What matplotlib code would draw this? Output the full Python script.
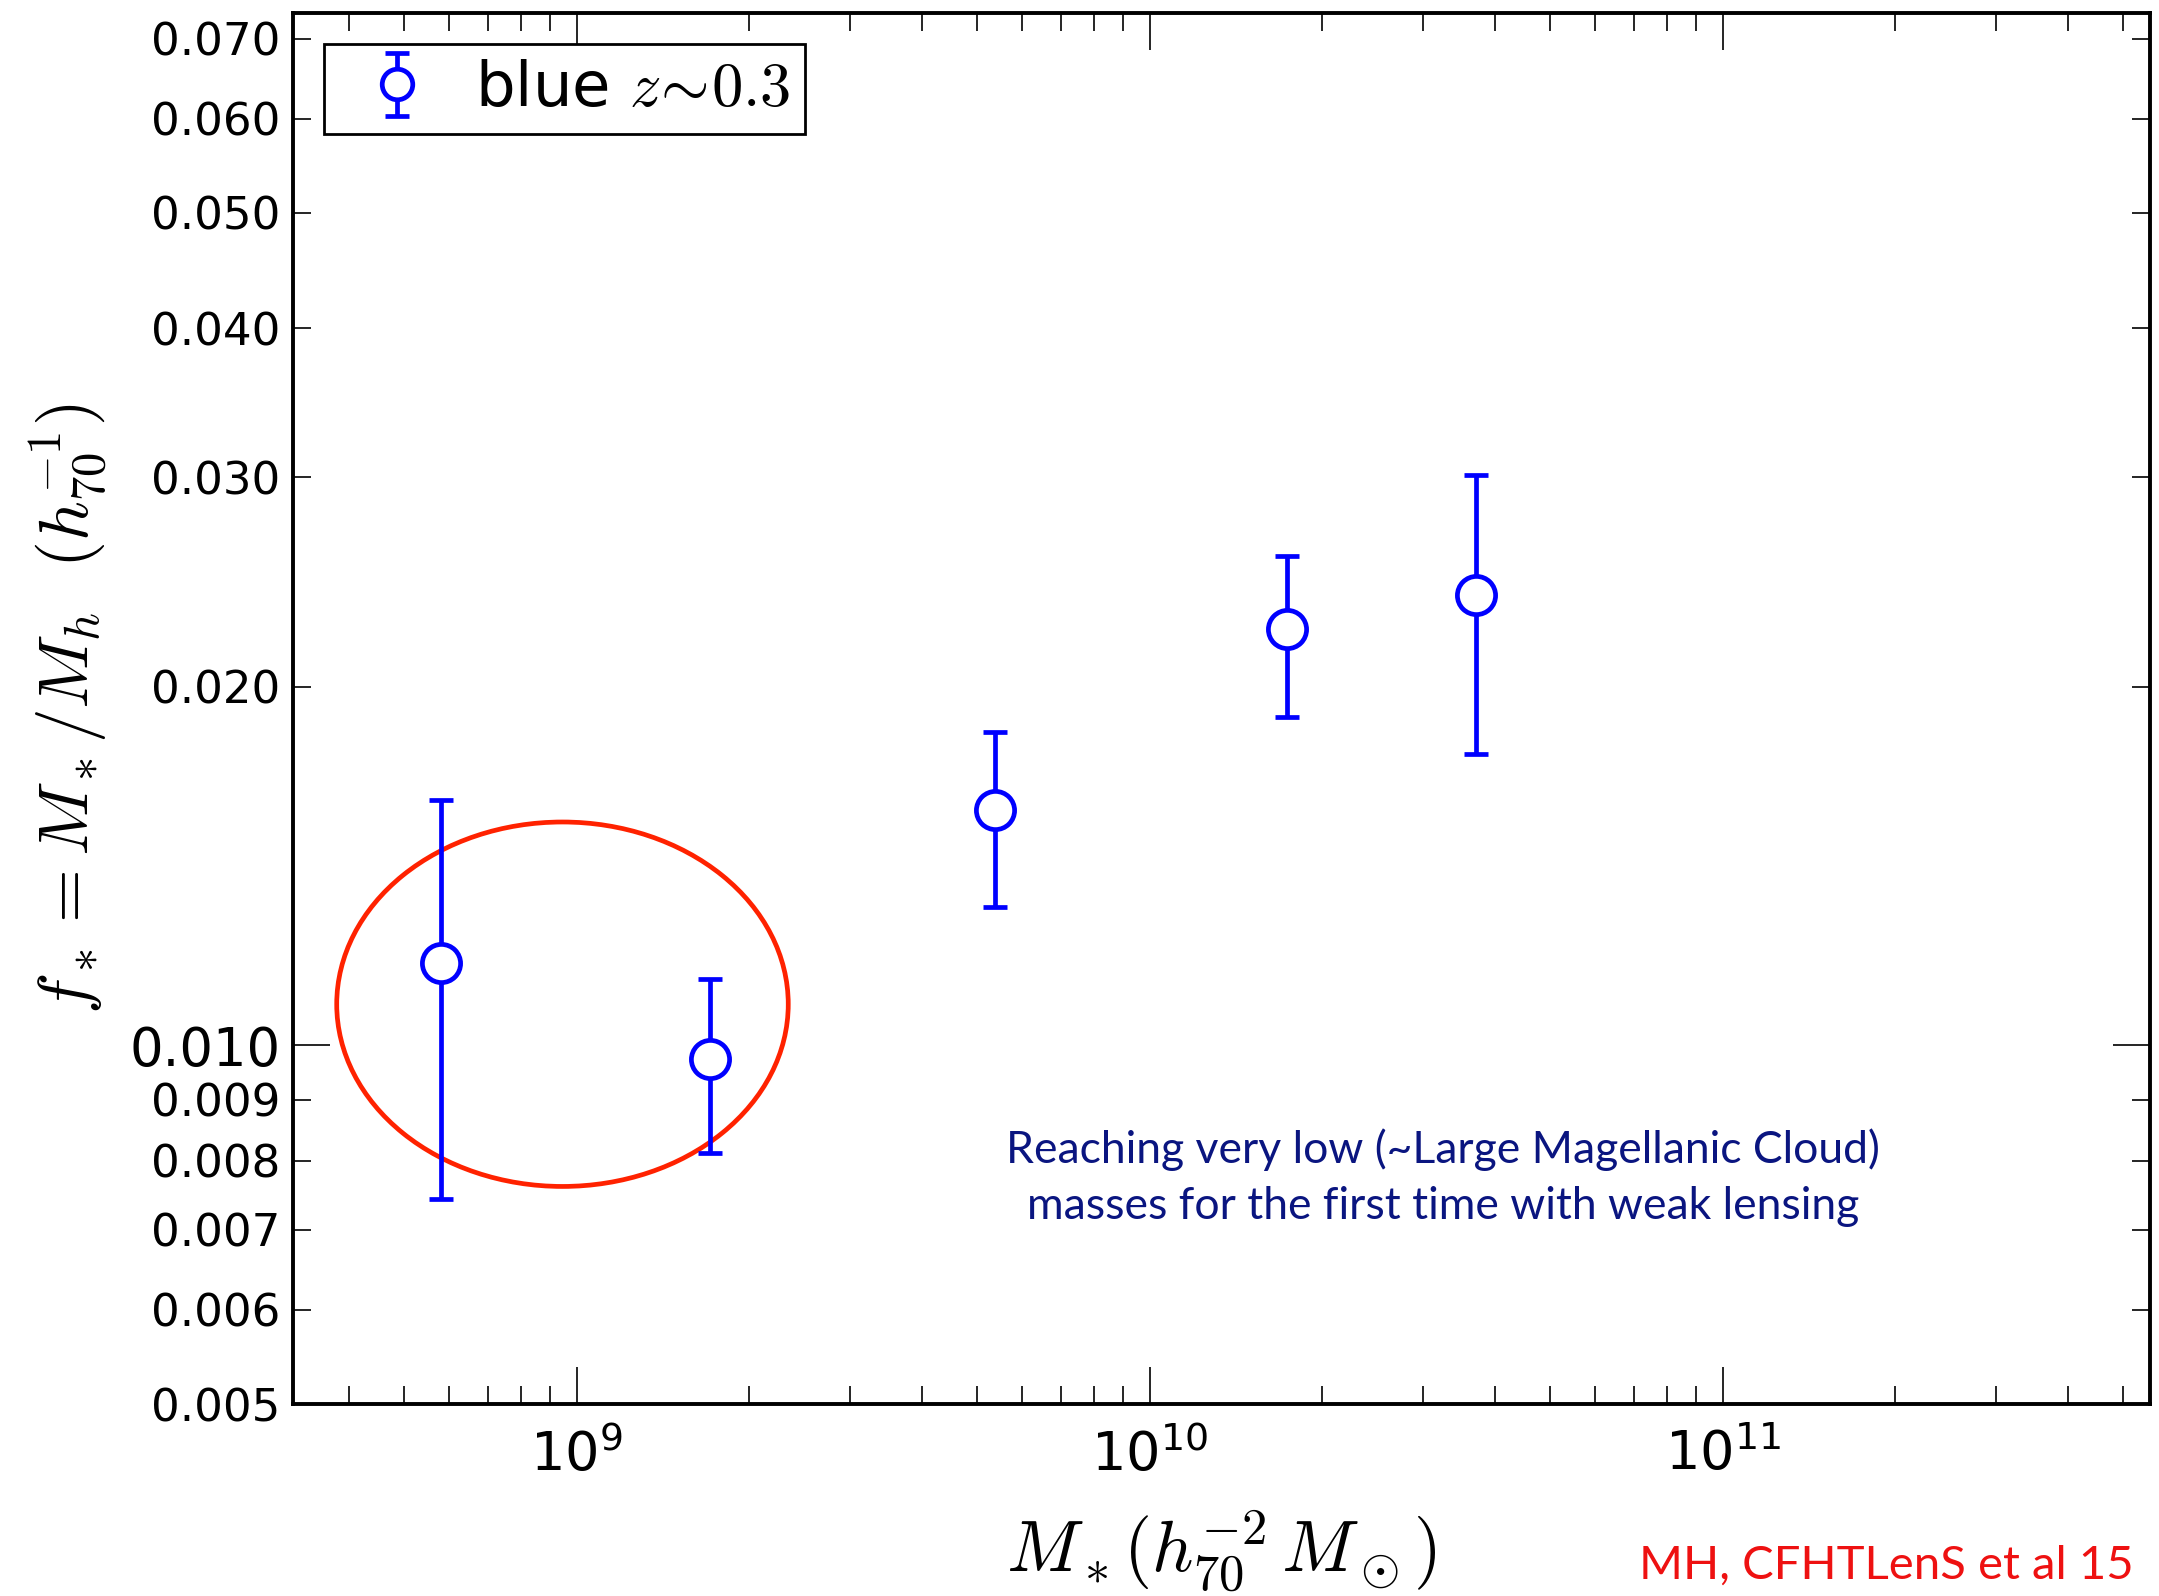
import numpy as np
import matplotlib
matplotlib.use('Agg')
import matplotlib.pyplot as plt
from matplotlib.patches import Ellipse
from matplotlib.ticker import LogLocator, FuncFormatter, NullFormatter

plt.rcParams['mathtext.fontset'] = 'cm'

# stellar mass bins and stellar-to-halo mass fraction (blue sample, z~0.3)
mstar = [5.79e8, 1.71e9, 5.38e9, 1.735e10, 3.705e10]
fstar = [0.01173, 0.00975, 0.01577, 0.02236, 0.02389]
f_hi = [0.01606, 0.01137, 0.01832, 0.02576, 0.03014]
f_lo = [0.00743, 0.00812, 0.01308, 0.01886, 0.01757]

# region highlighted in red (log-centre and extent in decades)
ring_centre = (9.45e8, 0.01083)
ring_size = (0.788, 0.306)

xlim = (3.2e8, 5.57e11)
ylim = (0.005, 0.0736)

fig = plt.figure(figsize=(21.59, 15.96), dpi=100)
ax = fig.add_axes([293 / 2159, 1 - 1404 / 1596, 1857 / 2159, 1391 / 1596])

mstar = np.array(mstar)
fstar = np.array(fstar)
yerr = [fstar - np.array(f_lo), np.array(f_hi) - fstar]

ax.errorbar(mstar, fstar, yerr=yerr, fmt='o', color='blue', mfc='white',
            mec='blue', ms=27.5, mew=3.4, ecolor='blue', elinewidth=3.4,
            capsize=8.3, capthick=3.6, label=r'blue $z\!\sim\!0.3$')

ax.set_xscale('log')
ax.set_yscale('log')
ax.set_xlim(*xlim)
ax.set_ylim(*ylim)

ax.yaxis.set_major_locator(LogLocator(base=10))
ax.yaxis.set_minor_locator(LogLocator(base=10, subs=np.arange(2, 10) * 1.0))
fmt = FuncFormatter(lambda v, p: '%.3f' % v)
ax.yaxis.set_major_formatter(fmt)
ax.yaxis.set_minor_formatter(fmt)

ax.xaxis.set_major_locator(LogLocator(base=10))
ax.xaxis.set_minor_locator(LogLocator(base=10, subs=np.arange(2, 10) * 1.0, numticks=20))
ax.xaxis.set_major_formatter(
    FuncFormatter(lambda v, p: r'$\mathregular{10^{%d}}$' % round(np.log10(v))))
ax.xaxis.set_minor_formatter(NullFormatter())

ax.tick_params(which='both', direction='in', top=True, right=True, color='black')
ax.tick_params(which='major', length=26.6, width=1.2)
ax.tick_params(which='minor', length=13, width=1.2)
ax.tick_params(axis='y', which='major', labelsize=38, pad=9)
ax.tick_params(axis='y', which='minor', labelsize=32.5, pad=9)
ax.tick_params(axis='x', which='major', labelsize=39, pad=17.5)

for s in ax.spines.values():
    s.set_linewidth(2.8)

ax.set_xlabel(r'$M_*(h_{70}^{-2}\,M_\odot)$', fontsize=52)
ax.set_ylabel(r'$f_*=M_*/M_h\ \ (h_{70}^{-1})$', fontsize=50)
ax.xaxis.set_label_coords(0.5, -0.106)
ax.xaxis.label.set_va('center')
ax.yaxis.set_label_coords(-0.1206, 0.5)
ax.yaxis.label.set_va('center')

leg = ax.legend(loc='upper left', numpoints=1, fontsize=45, markerscale=0.8,
                fancybox=False, framealpha=1, borderaxespad=0.5,
                handlelength=1.85, handletextpad=0.32, borderpad=0.24)
leg.get_frame().set_edgecolor('black')
leg.get_frame().set_linewidth(2.0)

# red ring around the lowest-mass bins, placed in axes fraction
xdec = np.log10(xlim[1] / xlim[0])
ydec = np.log10(ylim[1] / ylim[0])
cx = np.log10(ring_centre[0] / xlim[0]) / xdec
cy = np.log10(ring_centre[1] / ylim[0]) / ydec
ring = Ellipse((cx, cy), ring_size[0] / xdec, ring_size[1] / ydec,
               transform=ax.transAxes, fill=False, edgecolor='#ff2200', lw=3.4)
ax.add_patch(ring)

ax.text(0.6193, 0.1625,
        'Reaching very low (~Large Magellanic Cloud)\nmasses for the first time with weak lensing',
        transform=ax.transAxes, ha='center', va='center', multialignment='center',
        color='#0a1580', fontsize=32, family='Lato', linespacing=1.45)

fig.text(0.9884, 0.0188, 'MH, CFHTLenS et al 15', ha='right', va='center',
         color='#ee1111', fontsize=34, family='Lato')

fig.savefig('out.png', dpi=100)
